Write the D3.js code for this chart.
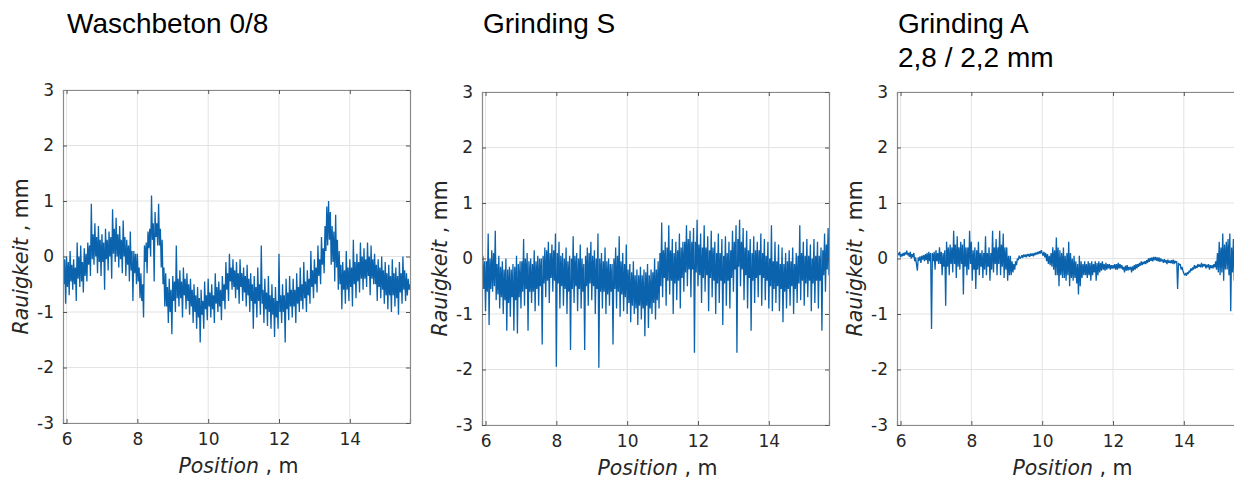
<!DOCTYPE html>
<html>
<head>
<meta charset="utf-8">
<script src="https://cdn.jsdelivr.net/npm/d3@7"></script>
<style>
  html, body { margin: 0; padding: 0; background: #fff; }
  svg { display: block; }
</style>
</head>
<body>
<div id="chart"></div>
<script>
// ---- Data ----
const titles = [["Waschbeton 0/8"], ["Grinding S"], ["Grinding A", "2,8 / 2,2 mm"]];
const xTicks = [6, 8, 10, 12, 14];
const yTicks = [-3, -2, -1, 0, 1, 2, 3];
const xLabel = "Position";
const xUnit = " , m";
const yLabel = "Rauigkeit";
const yUnit = " , mm";
// sampled profiles: position = posStart + index * posStep (m), 393 samples 5.9 .. 15.7 m
const posStart = 5.9;
const posStep = 0.025;

const waschbeton = [
  0.45,-0.5,-0.05,-0.85, 0.0,-0.55,-0.1,-0.7, 0.1,-0.45,-0.15,-0.6, -0.05,-0.5,-0.2,-0.8,
  0.25,-0.4,0.0,-0.55, 0.2,-0.45,-0.1,-0.65, 0.15,-0.35,0.05,-0.45, 0.25,-0.15,0.2,-0.35,
  0.95,-0.05,0.4,-0.15, 0.6,0.0,0.35,-0.3, 0.55,-0.1,0.3,-0.35, 0.4,-0.1,0.25,-0.6,
  0.5,-0.05,0.3,-0.25, 0.45,0.0,0.35,-0.4, 0.85,0.05,0.5,-0.1, 0.7,0.0,0.4,-0.2,
  0.55,-0.05,0.3,-0.3, 0.65,0.0,0.35,-0.35, 0.3,-0.15,0.2,-0.45, 0.45,-0.25,0.1,-0.8,
  0.1,-0.3,0.05,-0.5, 0.05,-0.45,-0.2,-0.75, -0.3,-0.8,-0.5,-1.1, 0.2,-0.1,0.25,-0.3,
  0.45,0.15,0.5,0.0, 1.1,0.3,0.6,-0.45, 0.8,0.35,0.6,0.2, 0.95,0.2,0.5,-0.2,
  0.3,-0.5,-0.2,-0.9, -0.3,-0.9,-0.55,-1.2, -0.4,-1.0,-0.6,-1.4, -0.35,-0.8,-0.45,-1.0,
  0.2,-0.75,-0.4,-0.9, -0.25,-0.75,-0.45,-1.1, -0.2,-0.7,-0.4,-0.95, -0.3,-0.8,-0.5,-1.05,
  -0.4,-0.9,-0.6,-1.2, -0.5,-1.0,-0.7,-1.3, -0.55,-1.1,-0.75,-1.55, -0.6,-1.05,-0.8,-1.3,
  -0.45,-0.95,-0.7,-1.15, -0.4,-0.9,-0.65,-1.1, -0.5,-0.95,-0.7,-1.2, -0.3,-0.85,-0.55,-1.0,
  -0.45,-0.9,-0.6,-1.15, -0.35,-0.8,-0.5,-0.95, -0.1,-0.6,-0.3,-0.8, 0.05,-0.45,-0.2,-0.6,
  -0.05,-0.55,-0.25,-0.75, -0.1,-0.6,-0.3,-0.85, -0.05,-0.55,-0.3,-0.8, -0.2,-0.65,-0.35,-0.9,
  -0.15,-0.7,-0.4,-1.0, -0.3,-0.8,-0.5,-1.3, -0.35,-0.85,-0.55,-1.1, -0.2,-0.8,-0.5,-1.05,
  0.2,-0.85,-0.6,-1.2, -0.4,-0.95,-0.65,-1.25, -0.35,-1.0,-0.7,-1.3, -0.5,-1.05,-0.75,-1.45,
  -0.55,-1.1,-0.8,-1.3, 0.05,-1.0,-0.7,-1.2, -0.5,-1.0,-0.7,-1.55, -0.4,-0.95,-0.65,-1.15,
  -0.35,-0.9,-0.6,-1.1, -0.4,-0.9,-0.6,-1.2, -0.3,-0.85,-0.55,-1.0, -0.2,-0.8,-0.5,-0.95,
  -0.1,-0.75,-0.45,-1.0, -0.25,-0.7,-0.4,-0.85, 0.1,-0.55,-0.25,-0.75, -0.05,-0.5,-0.2,-0.65,
  0.2,-0.35,-0.05,-0.5, 0.35,-0.15,0.15,-0.3, 0.55,0.1,0.9,0.2, 1.0,0.3,0.8,-0.15,
  0.55,-0.1,0.45,-0.45, 0.75,-0.2,0.3,-0.6, 0.1,-0.5,-0.15,-0.95, -0.1,-0.6,-0.25,-0.85,
  0.1,-0.6,-0.2,-0.8, -0.05,-0.55,-0.2,-0.9, 0.3,-0.5,-0.1,-0.75, 0.05,-0.45,-0.1,-0.65,
  0.25,-0.4,0.0,-0.6, 0.15,-0.4,-0.05,-0.55, 0.25,-0.35,0.0,-0.7, 0.2,-0.4,-0.05,-0.5,
  0.05,-0.5,-0.15,-0.8, -0.05,-0.55,-0.2,-0.75, 0.0,-0.6,-0.25,-0.85, -0.1,-0.7,-0.3,-0.95,
  -0.15,-0.7,-0.35,-1.0, -0.05,-0.7,-0.3,-0.9, -0.2,-0.75,-0.35,-1.05, -0.1,-0.65,-0.3,-0.85,
  0.0,-0.6,-0.25,-0.8, -0.3,-0.7,-0.4,-0.6,
  -0.5
];

const grindingS = [
  -0.5,0.05,-0.55,-0.05, -0.95,-0.05,-0.6,0.45, -1.2,0.0,-0.55,0.15, -0.6,0.1,-0.5,0.5,
  -0.75,-0.1,-0.65,0.05, -0.9,-0.15,-0.7,-0.05, -1.0,-0.2,-0.75,0.0, -1.3,-0.2,-0.8,-0.15,
  -1.05,-0.2,-0.7,-0.1, -1.3,-0.15,-0.75,0.05, -1.35,-0.1,-0.7,-0.05, -0.9,-0.05,-0.6,0.35,
  -0.85,0.0,-0.55,0.1, -1.3,-0.05,-0.6,0.0, -0.8,-0.1,-0.6,0.15, -0.95,-0.05,-0.55,0.05,
  -0.85,0.0,-0.5,0.0, -1.55,0.05,-0.45,0.2, -0.7,0.15,-0.4,0.3, -0.8,0.1,-0.35,0.25,
  -0.6,0.15,-0.4,0.45, -1.95,0.1,-0.45,0.3, -0.9,0.05,-0.5,0.1, -0.85,0.0,-0.55,0.2,
  -1.0,-0.05,-0.6,0.05, -1.65,0.0,-0.55,0.4, -0.8,0.05,-0.5,0.1, -0.95,0.0,-0.55,0.25,
  -0.9,0.0,-0.6,-0.1, -1.65,0.05,-0.5,0.2, -0.85,0.1,-0.45,0.3, -0.75,0.05,-0.5,0.15,
  -1.0,0.0,-0.55,0.45, -1.97,0.0,-0.6,0.1, -0.9,-0.05,-0.6,0.2, -1.0,-0.05,-0.65,0.0,
  -0.85,-0.1,-0.6,-0.1, -1.55,0.0,-0.55,0.2, -0.9,0.05,-0.6,0.4, -1.05,-0.05,-0.65,0.1,
  -0.95,-0.1,-0.7,0.25, -1.0,-0.2,-0.8,-0.1, -1.15,-0.25,-0.85,-0.05, -1.0,-0.3,-0.9,-0.2,
  -1.2,-0.3,-0.85,-0.15, -1.1,-0.3,-0.9,-0.2, -1.4,-0.25,-0.85,-0.1, -1.25,-0.3,-0.9,-0.2,
  -1.0,-0.25,-0.8,0.0, -1.1,-0.2,-0.75,-0.05, -0.9,0.1,-0.5,0.65, -0.7,0.15,-0.35,0.3,
  -0.85,0.2,-0.4,0.6, -0.65,0.15,-0.4,0.35, -1.0,0.1,-0.45,0.3, -0.75,0.15,-0.4,0.45,
  -0.9,0.2,-0.35,0.3, -0.6,0.3,-0.25,0.6, -0.5,0.35,-0.2,0.5, -0.7,0.3,-0.2,0.55,
  -1.7,0.3,-0.25,0.7, -0.5,0.25,-0.3,0.45, -0.8,0.2,-0.35,0.6, -0.6,0.2,-0.3,0.4,
  -0.95,0.15,-0.35,0.5, -0.7,0.2,-0.4,0.3, -1.0,0.1,-0.45,0.45, -0.8,0.1,-0.4,0.35,
  -1.2,0.05,-0.45,0.4, -0.85,0.1,-0.4,0.3, -0.9,0.15,-0.35,0.5, -0.6,0.3,-0.2,0.6,
  -1.7,0.35,-0.15,0.7, -0.5,0.3,-0.2,0.55, -0.75,0.2,-0.3,0.5, -0.9,0.15,-0.35,0.35,
  -1.3,0.1,-0.4,0.4, -0.8,0.15,-0.35,0.3, -0.7,0.15,-0.3,0.45, -0.85,0.1,-0.35,0.35,
  -0.75,0.05,-0.4,0.3, -0.9,0.0,-0.5,0.6, -0.95,-0.05,-0.55,0.3, -0.8,-0.05,-0.5,0.25,
  -0.95,-0.1,-0.55,0.2, -1.15,-0.1,-0.6,0.1, -0.9,-0.05,-0.55,0.15, -0.85,-0.05,-0.5,0.2,
  -1.0,-0.1,-0.55,0.1, -0.8,0.05,-0.45,0.6, -0.75,0.1,-0.4,0.3, -0.85,0.05,-0.45,0.35,
  -0.7,0.05,-0.4,0.25, -0.95,0.0,-0.45,0.35, -0.8,0.05,-0.4,0.3, -0.9,0.05,-0.4,0.2,
  -1.3,0.15,-0.3,0.45, -0.6,0.25,-0.2,0.55,
  -0.3
];

const grindingA = [
  0.05,0.1,0.06,0.12, 0.02,0.08,0.04,0.1, 0.05,0.11,0.07,0.14, 0.06,0.1,0.03,0.12,
  0.0,0.08,0.02,0.1, -0.05,0.02,-0.1,-0.22, 0.02,-0.04,0.04,-0.08, 0.05,-0.02,0.06,-0.05,
  0.08,-0.03,0.1,-0.1, 0.12,-0.05,0.1,-1.27, 0.1,-0.05,0.12,-0.2, 0.15,-0.05,0.1,-0.1,
  0.2,-0.1,0.12,-0.3, 0.1,-0.15,0.15,-0.85, 0.3,-0.15,0.2,-0.3, 0.25,-0.1,0.2,-0.25,
  0.5,-0.1,0.25,-0.35, 0.4,-0.15,0.2,-0.2, 0.3,-0.1,0.25,-0.65, 0.35,-0.15,0.2,-0.3,
  0.2,-0.2,0.5,-0.1, 0.3,-0.4,0.15,-0.2, 0.2,-0.55,0.15,-0.2, 0.3,-0.3,0.1,-0.15,
  0.15,-0.35,0.1,-0.2, 0.4,-0.3,0.1,-0.15, 0.2,-0.4,0.1,-0.2, 0.5,-0.25,0.2,-0.1,
  0.35,-0.3,0.2,-0.1, 0.5,-0.3,0.25,-0.15, 0.45,-0.35,0.2,-0.2, 0.2,-0.4,0.05,-0.3,
  0.05,-0.3,-0.05,-0.25, -0.1,-0.2,-0.05,-0.12, 0.0,-0.03,0.05,0.0, 0.02,0.06,0.01,0.07,
  0.03,0.07,0.02,0.08, 0.04,0.08,0.03,0.09, 0.05,0.09,0.04,0.1, 0.06,0.11,0.07,0.12,
  0.08,0.13,0.09,0.15, 0.1,0.05,0.12,0.02, 0.1,-0.05,0.08,-0.1, 0.05,-0.12,0.1,-0.15,
  0.2,-0.2,0.15,-0.3, 0.38,-0.3,0.2,-0.5, 0.15,-0.3,0.1,-0.35, 0.2,-0.35,0.05,-0.4,
  0.1,-0.3,0.3,-0.5, 0.1,-0.35,0.0,-0.4, 0.05,-0.35,-0.05,-0.45, -0.1,-0.65,0.05,-0.5,
  -0.05,-0.35,-0.1,-0.3, -0.05,-0.3,-0.1,-0.35, -0.05,-0.3,-0.08,-0.4, -0.05,-0.3,-0.1,-0.25,
  -0.05,-0.4,-0.08,-0.3, -0.05,-0.25,-0.08,-0.22, -0.05,-0.2,-0.1,-0.22, -0.08,-0.2,-0.1,-0.18,
  -0.1,-0.2,-0.12,-0.18, -0.12,-0.18,-0.1,-0.2, -0.1,-0.2,-0.08,-0.18, -0.1,-0.18,-0.12,-0.2,
  -0.15,-0.25,-0.13,-0.22, -0.12,-0.22,-0.15,-0.2, -0.15,-0.25,-0.14,-0.22, -0.12,-0.2,-0.1,-0.18,
  -0.1,-0.15,-0.08,-0.13, -0.05,-0.12,-0.06,-0.1, -0.05,-0.1,-0.03,-0.08, 0.0,-0.06,0.01,-0.04,
  0.02,-0.05,0.03,-0.03, 0.03,-0.04,0.02,-0.05, 0.02,-0.06,0.0,-0.05, -0.02,-0.08,-0.01,-0.07,
  -0.03,-0.1,-0.02,-0.08, -0.04,-0.08,-0.03,-0.09, -0.02,-0.1,-0.04,-0.08, -0.05,-0.55,-0.08,-0.12,
  -0.1,-0.2,-0.15,-0.22, -0.27,-0.3,-0.26,-0.31, -0.25,-0.28,-0.22,-0.25, -0.18,-0.22,-0.16,-0.2,
  -0.12,-0.18,-0.13,-0.17, -0.1,-0.15,-0.11,-0.16, -0.08,-0.16,-0.1,-0.14, -0.1,-0.18,-0.11,-0.16,
  -0.1,-0.2,-0.12,-0.17, -0.12,-0.18,-0.1,-0.16, -0.05,-0.2,0.1,-0.25, 0.3,-0.3,0.2,-0.25,
  0.45,-0.4,0.25,-0.2, 0.3,-0.2,0.35,-0.3, 0.45,-0.95,0.2,-0.25, 0.35,-0.4,0.25,-0.3,
  0.3,-0.3,0.2,-0.35, 0.4,-0.5,0.3,-0.2,
  0.2
];

const seriesList = [waschbeton, grindingS, grindingA];

// ---- Layout ----
const W = 1234, H = 479;
const panels = [
  { left: 63,  top: 90, width: 347, height: 333 },
  { left: 482, top: 92, width: 347, height: 333 },
  { left: 897, top: 92, width: 347, height: 333 }
];
const titleX = [67, 483, 898];

const svg = d3.select("#chart").append("svg")
  .attr("width", W).attr("height", H);

const tickFont = "'DejaVu Sans', sans-serif";
const textColor = "#262626";

panels.forEach((p, k) => {
  const data = seriesList[k];
  const x = d3.scaleLinear().domain([5.9, 15.7]).range([0, p.width]);
  const y = d3.scaleLinear().domain([-3, 3]).range([p.height, 0]);

  const g = svg.append("g").attr("transform", `translate(${p.left},${p.top})`);

  g.append("clipPath").attr("id", "clip" + k)
    .append("rect").attr("width", p.width).attr("height", p.height);

  // grid
  g.append("g").selectAll("line").data(xTicks).join("line")
    .attr("x1", d => x(d)).attr("x2", d => x(d))
    .attr("y1", 0).attr("y2", p.height)
    .attr("stroke", "#e3e3e3").attr("stroke-width", 1);
  g.append("g").selectAll("line").data(yTicks).join("line")
    .attr("x1", 0).attr("x2", p.width)
    .attr("y1", d => y(d)).attr("y2", d => y(d))
    .attr("stroke", "#e3e3e3").attr("stroke-width", 1);

  // data line
  const line = d3.line()
    .x((d, i) => x(posStart + i * posStep))
    .y(d => y(d));
  g.append("path")
    .datum(data)
    .attr("clip-path", `url(#clip${k})`)
    .attr("fill", "none")
    .attr("stroke", "#0b63ad")
    .attr("stroke-width", 1.3)
    .attr("stroke-linejoin", "bevel")
    .attr("d", line);

  // axes (MATLAB-like: inward ticks, box)
  const fmt = d => String(d);
  const xAxis = d3.axisBottom(x).tickValues(xTicks).tickSize(-4).tickPadding(10).tickFormat(fmt);
  const yAxis = d3.axisLeft(y).tickValues(yTicks).tickSize(-4).tickPadding(9).tickFormat(fmt);
  const xTop = d3.axisTop(x).tickValues(xTicks).tickSize(-4).tickFormat("");
  const yRight = d3.axisRight(y).tickValues(yTicks).tickSize(-4).tickFormat("");

  const styleAxis = sel => {
    sel.selectAll("path.domain").attr("stroke", "#8a8a8a").attr("stroke-width", 1.2);
    sel.selectAll(".tick line").attr("stroke", "#555").attr("stroke-width", 1);
    sel.selectAll("text").attr("fill", textColor)
      .style("font-family", tickFont).style("font-size", "17px");
  };
  g.append("g").attr("transform", `translate(0,${p.height})`).call(xAxis).call(styleAxis);
  g.append("g").call(yAxis).call(styleAxis);
  g.append("g").call(xTop).call(styleAxis);
  g.append("g").attr("transform", `translate(${p.width},0)`).call(yRight).call(styleAxis);

  // axis titles
  const xt = g.append("text")
    .attr("x", p.width / 2 + 2).attr("y", p.height + 50)
    .attr("text-anchor", "middle")
    .attr("fill", textColor)
    .style("font-family", tickFont).style("font-size", "20.5px");
  xt.append("tspan").style("font-style", "italic").text(xLabel);
  xt.append("tspan").text(xUnit);

  const yt = g.append("text")
    .attr("transform", `translate(${-35},${p.height / 2}) rotate(-90)`)
    .attr("text-anchor", "middle")
    .attr("fill", textColor)
    .style("font-family", tickFont).style("font-size", "20.5px");
  yt.append("tspan").style("font-style", "italic").text(yLabel);
  yt.append("tspan").text(yUnit);

  // panel title
  const tt = svg.append("text")
    .attr("x", titleX[k]).attr("y", 33)
    .attr("fill", "#000")
    .style("font-family", "'Liberation Sans', Arial, sans-serif")
    .style("font-size", "28px");
  titles[k].forEach((t, j) => {
    tt.append("tspan").attr("x", titleX[k]).attr("dy", j === 0 ? 0 : 34).text(t);
  });
});
</script>
</body>
</html>
